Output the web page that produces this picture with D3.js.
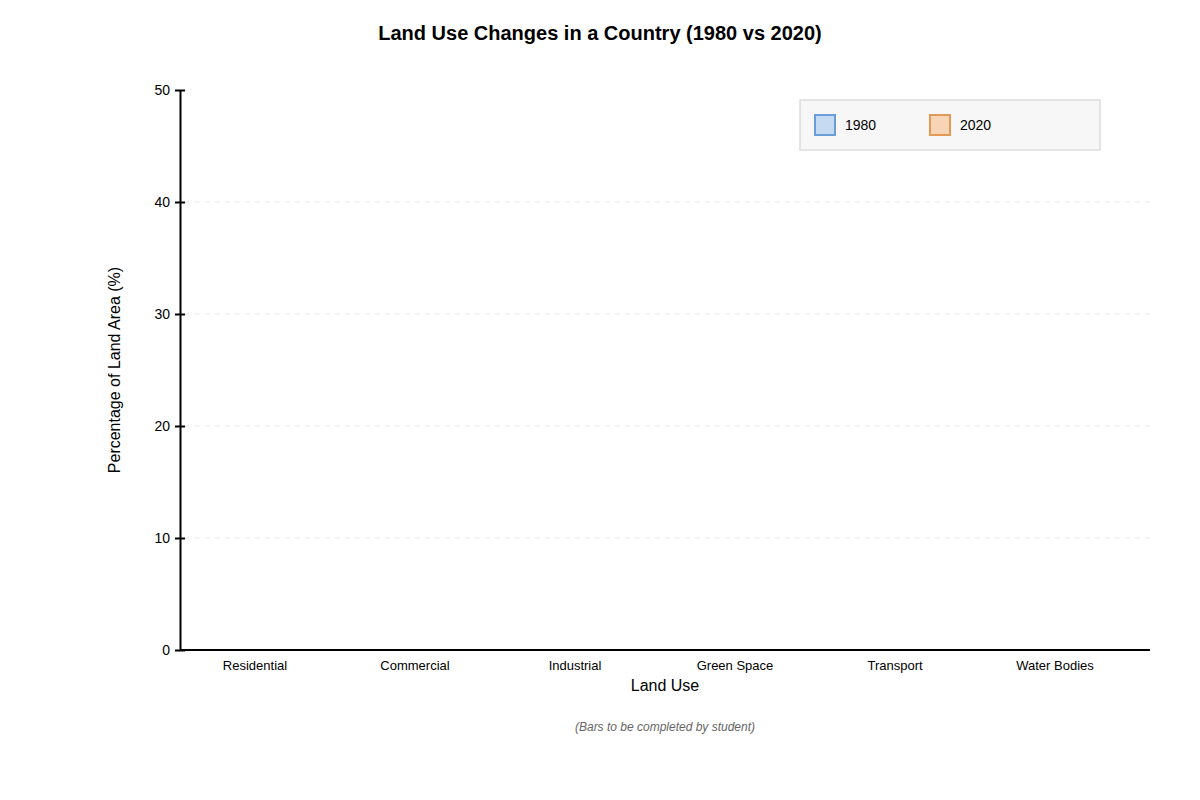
<!DOCTYPE html>
<html>
<head>
<meta charset="utf-8">
<script src="https://cdn.jsdelivr.net/npm/d3@7"></script>
<style>
  body { margin: 0; background: #fff; font-family: "Liberation Sans", Arial, sans-serif; }
</style>
</head>
<body>
<svg id="chart" width="1200" height="800"></svg>
<script>
const categories = ["Residential", "Commercial", "Industrial", "Green Space", "Transport", "Water Bodies"];
const seriesNames = ["1980", "2020"];
const seriesFill = ["#c6daf2", "#f8d4b7"];
const seriesStroke = ["#6a9ed8", "#e39a55"];
const yTicks = [0, 10, 20, 30, 40, 50];
const gridTicks = [10, 20, 30, 40];

const svg = d3.select("#chart");
const m = { left: 180, top: 90, right: 1150, bottom: 650 };

const x = d3.scaleBand().domain(categories).range([m.left - 5, m.right - 15]);
const y = d3.scaleLinear().domain([0, 50]).range([m.bottom, m.top]);

// title
svg.append("text").attr("x", 600).attr("y", 40).attr("text-anchor", "middle")
  .style("font-size", "20px").style("font-weight", "bold").text("Land Use Changes in a Country (1980 vs 2020)");

// grid
svg.append("g").selectAll("line").data(gridTicks).join("line")
  .attr("x1", m.left + 5).attr("x2", m.right)
  .attr("y1", d => y(d)).attr("y2", d => y(d))
  .attr("stroke", "#e8e8e8").attr("stroke-width", 1).attr("stroke-dasharray", "5,5");

// y axis
const yAxis = svg.append("g").attr("transform", `translate(${m.left},0)`)
  .call(d3.axisLeft(y).tickValues(yTicks).tickSize(5).tickSizeOuter(0).tickPadding(5));
yAxis.select(".domain").attr("stroke", "#000").attr("stroke-width", 2);
yAxis.selectAll(".tick line").attr("x2", 5).attr("x1", -5).attr("stroke-width", 2);
yAxis.selectAll(".tick text").style("font-size", "14px").style("font-family", "Liberation Sans, Arial, sans-serif").attr("fill", "#000");

// x axis
const xAxis = svg.append("g").attr("transform", `translate(0,${m.bottom})`)
  .call(d3.axisBottom(x).tickSize(0).tickSizeOuter(0).tickPadding(11));
xAxis.select(".domain").attr("d", `M${m.left},0H${m.right}`).attr("stroke", "#000").attr("stroke-width", 2);
xAxis.selectAll(".tick text").style("font-size", "13px").style("font-family", "Liberation Sans, Arial, sans-serif").attr("fill", "#000");

// axis labels
svg.append("text").attr("x", (m.left + m.right) / 2).attr("y", 691).attr("text-anchor", "middle")
  .style("font-size", "16px").text("Land Use");
svg.append("text").attr("transform", `translate(120,${(m.top + m.bottom) / 2}) rotate(-90)`)
  .attr("text-anchor", "middle").style("font-size", "16px").text("Percentage of Land Area (%)");

// footnote
svg.append("text").attr("x", (m.left + m.right) / 2).attr("y", 731).attr("text-anchor", "middle")
  .style("font-size", "12px").style("font-style", "italic").attr("fill", "#666")
  .text("(Bars to be completed by student)");

// legend
const lg = svg.append("g").attr("transform", "translate(800,100)");
lg.append("rect").attr("width", 300).attr("height", 50).attr("fill", "#f7f7f7").attr("stroke", "#dddddd").attr("stroke-width", 1.5);
const items = lg.selectAll("g.item").data(seriesNames).join("g")
  .attr("transform", (d, i) => `translate(${15 + i * 115},15)`);
items.append("rect").attr("width", 20).attr("height", 20)
  .attr("fill", (d, i) => seriesFill[i]).attr("stroke", (d, i) => seriesStroke[i]).attr("stroke-width", 2);
items.append("text").attr("x", 30).attr("y", 15).style("font-size", "14px").text(d => d);
</script>
</body>
</html>
